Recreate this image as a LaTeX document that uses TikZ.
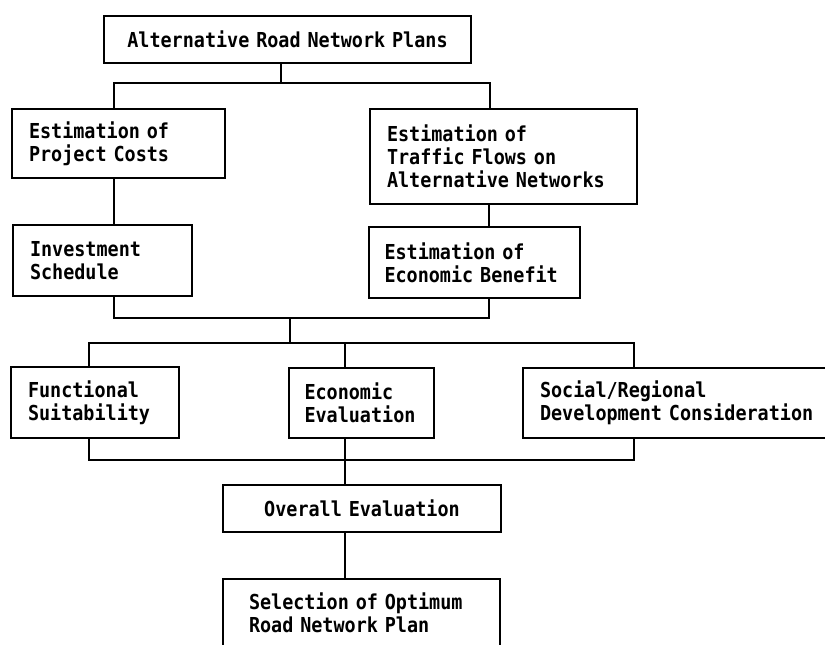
\documentclass[tikz,border=0pt]{standalone}
\usepackage{fontspec}
\newfontfamily\boxfont[FakeStretch=0.895]{DejaVu Sans Mono}
\tikzset{
	blk/.style 2 args={draw, line width=1pt, anchor=north west, inner xsep=8.5pt, inner ysep=0pt,
		text width=#1, minimum height=#2, align=left, font=\myfontbox},
	link/.style={line width=1pt}
}
\begin{document}
\begin{tikzpicture}[x=0.5pt,y=-0.5pt]
			\newcommand{\myfontbox}{%
				\boxfont\bfseries\fontsize{10.3}{11.5}\selectfont
				\spaceskip=\fontcharwd\font`a\relax\xspaceskip=\spaceskip%
			}%Page frame
			\useasboundingbox (0,0) rectangle (825,644);
			%Boxes
			\node (plans) [blk={168pt}{23.5pt},inner xsep=7.75pt,align=center] at (103,15) {Alternative Road Network Plans};
			\node (costs) [blk={89.5pt}{34.5pt}] at (11,108) {Estimation of\\Project Costs};
			\node (flows) [blk={116.5pt}{47.5pt}] at (369,108) {Estimation of\\Traffic Flows on\\Alternative Networks};
			\node (invest) [blk={72.5pt}{35.5pt}] at (12,224) {Investment\\Schedule};
			\node (benefit) [blk={90pt}{35.5pt},inner xsep=7.75pt] at (368,226) {Estimation of\\Economic Benefit};
			\node (funct) [blk={67pt}{35.5pt}] at (10,366) {Functional\\Suitability};
			\node (econ) [blk={57pt}{35pt},inner xsep=7.75pt] at (288,367) {Economic\\Evaluation};
			\node (social) [blk={163pt}{35pt}] at (522,367) {Social/Regional\\Development Consideration};
			\node (overall) [blk={122pt}{23.5pt},align=center] at (222,484) {Overall Evaluation};
			\node (select) [blk={112.5pt}{34pt},inner xsep=13pt] at (222,578) {Selection of Optimum\\Road Network Plan};
			%Junctions of the first split
			\coordinate (j0) at (281,83);
			\coordinate (jl) at (114,83);
			\coordinate (jr) at (490,83);
			\draw [link] (j0 |- plans.south) -- (j0);
			\draw [link] (jl |- costs.north) -- (jl) -- (jr) -- (jr |- flows.north);
			%Second level
			\draw [link] (jl |- costs.south) -- (jl |- invest.north);
			\coordinate (jb) at (489,83);
			\draw [link] (jb |- flows.south) -- (jb |- benefit.north);
			%Merge below the second level
			\coordinate (j1) at (290,318);
			\draw [link] (jl |- invest.south) -- (jl |- j1) -- (jb |- j1) -- (jb |- benefit.south);
			%Split to the three evaluations
			\coordinate (kl) at (89,343);
			\coordinate (km) at (345,343);
			\coordinate (kr) at (634,343);
			\draw [link] (j1) -- (j1 |- kl);
			\draw [link] (kl |- funct.north) -- (kl) -- (kr) -- (kr |- social.north);
			\draw [link] (km) -- (km |- econ.north);
			%Merge of the three evaluations
			\coordinate (ml) at (89,460);
			\coordinate (mm) at (345,460);
			\coordinate (mr) at (634,460);
			\draw [link] (ml |- funct.south) -- (ml) -- (mr) -- (mr |- social.south);
			\draw [link] (mm |- econ.south) -- (mm |- overall.north);
			\draw [link] (mm |- overall.south) -- (mm |- select.north);
\end{tikzpicture}
\end{document}
